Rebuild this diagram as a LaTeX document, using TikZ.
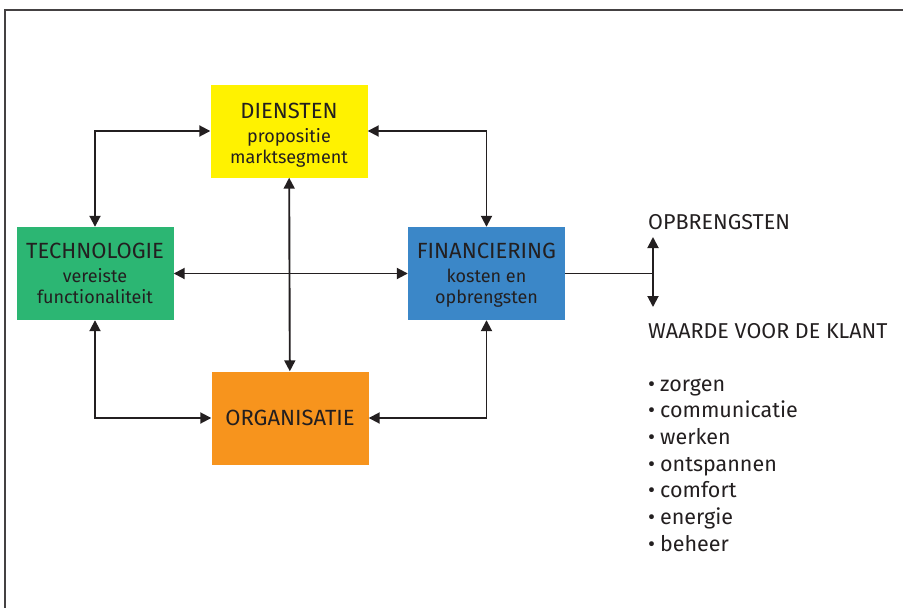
\documentclass[tikz,border=0pt]{standalone}
\usepackage{fontspec}
\setmainfont{Fira Sans}
\usetikzlibrary{arrows.meta,positioning,calc}
\definecolor{ink}{RGB}{35,31,32}
\definecolor{dienst}{RGB}{255,242,0}
\definecolor{techno}{RGB}{44,182,115}
\definecolor{financ}{RGB}{59,135,200}
\definecolor{organi}{RGB}{247,148,29}
\newcommand{\sublbl}[1]{{\fontsize{18}{20}\selectfont #1}}
\begin{document}
\begin{tikzpicture}[x=1pt, y=-1pt,
  box/.style={minimum width=157pt, minimum height=93pt, inner sep=0pt, align=center, text=ink, font=\fontsize{22}{24}\selectfont},
  con/.style={draw=ink, line width=1.9pt, {Triangle[length=11pt,width=11pt]}-{Triangle[length=11pt,width=11pt]}},
  lbl/.style={anchor=base west, inner sep=0pt, text=ink, font=\fontsize{21.5}{24}\selectfont}]
\useasboundingbox (0,0) rectangle (903,608);
\draw[ink!85, line width=1.5pt] (5,608) -- (5,10) -- (903,10);
%the four boxes
\node[box, fill=dienst] (dien) at (289,131) {\rule{0pt}{20pt}DIENSTEN\\\sublbl{propositie}\\[-3pt]\sublbl{\smash{marktsegment}}};
\node[box, fill=techno] (tech) at (95,273.5) {TECHNOLOGIE\\\sublbl{vereiste}\\[-3pt]\sublbl{functionaliteit}};
\node[box, fill=financ] (fin) at (486.5,273.5) {FINANCIERING\\\sublbl{kosten en}\\[-3pt]\sublbl{\smash{opbrengsten}}};
\node[box, fill=organi] (org) at (290,418) {ORGANISATIE};
%connectors round the square
\draw[con] (tech.north) |- (dien.west);
\draw[con] (dien.east) -| (fin.north);
\draw[con] (tech.south) |- (org.west);
\draw[con] (org.east) -| (fin.south);
%connectors through the middle
\draw[con] (tech) -- (fin);
\draw[con] (dien) -- (org);
%right side
\coordinate (split) at (653,273.5);
\coordinate (up) at (653,237);
\coordinate (down) at (653,307);
\draw[ink, line width=1.9pt] (fin.east) -- (split);
\draw[con] (up) -- (down);
\node[lbl] (opbr) at (648,229) {OPBRENGSTEN};
\node[lbl] (waarde) at (648,338) {WAARDE VOOR DE KLANT};
\foreach \i/\w in {0/zorgen,1/communicatie,2/werken,3/ontspannen,4/comfort,5/energie,6/beheer}{\node[lbl] (it\i) at (648,391+26.7*\i) {•\hspace{5pt}\w};}
\end{tikzpicture}
\end{document}
